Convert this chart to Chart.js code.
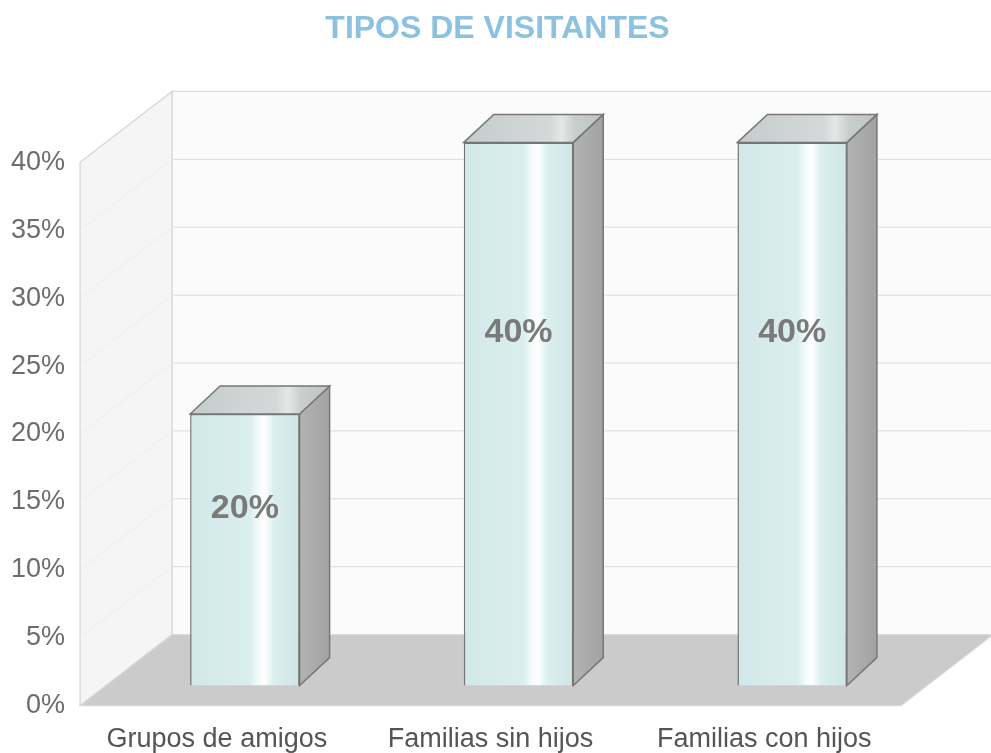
<!DOCTYPE html>
<html>
<head>
<meta charset="utf-8">
<script src="https://cdn.jsdelivr.net/npm/chart.js@4.4.1/dist/chart.umd.min.js"></script>
<style>
  body { margin: 0; background: #fff; }
  #wrap { width: 991px; height: 753px; }
</style>
</head>
<body>
<div id="wrap"><canvas id="chart"></canvas></div>
<script>
// Chart data
const categories = ['Grupos de amigos', 'Familias sin hijos', 'Familias con hijos'];
const shares = [20, 40, 40];
const axisMax = 40;
const axisStep = 5;

// 3D look: depth of the box and offset of the bar fronts
const WALL_DX = 92, WALL_DY = -71;
const FRONT_DX = 28, FRONT_DY = -20;
const BAR_DX = 30, BAR_DY = -28;

function poly(ctx, pts, fill, stroke) {
    ctx.beginPath();
    ctx.moveTo(pts[0][0], pts[0][1]);
    for (let i = 1; i < pts.length; i++) ctx.lineTo(pts[i][0], pts[i][1]);
    ctx.closePath();
    if (fill) { ctx.fillStyle = fill; ctx.fill(); }
    if (stroke) { ctx.strokeStyle = stroke; ctx.stroke(); }
}

const box3d = {
    id: 'box3d',
    beforeDatasetsDraw(chart) {
        const ctx = chart.ctx;
        const a = chart.chartArea;
        const yScale = chart.scales.y;
        const y0 = yScale.getPixelForValue(0);
        const yT = yScale.getPixelForValue(axisMax);

        ctx.save();
        ctx.lineWidth = 1.2;
        // back wall
        poly(ctx, [[a.left + WALL_DX, yT + WALL_DY], [a.right + WALL_DX, yT + WALL_DY],
                   [a.right + WALL_DX, y0 + WALL_DY], [a.left + WALL_DX, y0 + WALL_DY]], '#fbfbfb', '#dedede');
        // left wall
        poly(ctx, [[a.left, y0], [a.left, yT], [a.left + WALL_DX, yT + WALL_DY], [a.left + WALL_DX, y0 + WALL_DY]],
             '#f5f5f5', '#d4d4d4');
        // gridlines on the walls
        ctx.lineWidth = 1;
        for (let v = axisStep; v < axisMax; v += axisStep) {
            const py = yScale.getPixelForValue(v);
            ctx.strokeStyle = '#dcdcdc';
            ctx.beginPath();
            ctx.moveTo(a.left + WALL_DX, py + WALL_DY);
            ctx.lineTo(a.right + WALL_DX, py + WALL_DY);
            ctx.stroke();
            ctx.strokeStyle = '#ededed';
            ctx.beginPath();
            ctx.moveTo(a.left, py);
            ctx.lineTo(a.left + WALL_DX, py + WALL_DY);
            ctx.stroke();
        }
        // floor
        ctx.lineWidth = 1.2;
        poly(ctx, [[a.left, y0], [a.right, y0], [a.right + WALL_DX, y0 + WALL_DY], [a.left + WALL_DX, y0 + WALL_DY]],
             '#cbcbcb', '#d9d9d9');

        // side and top faces of the bars
        const meta = chart.getDatasetMeta(0);
        ctx.lineWidth = 1.5;
        meta.data.forEach(bar => {
            const p = bar.getProps(['x', 'y', 'base', 'width'], true);
            const xl = p.x - p.width / 2 + FRONT_DX;
            const xr = p.x + p.width / 2 + FRONT_DX;
            const top = p.y + FRONT_DY;
            const base = p.base + FRONT_DY;
            const side = ctx.createLinearGradient(xr, 0, xr + BAR_DX, 0);
            side.addColorStop(0, '#b3b3b3');
            side.addColorStop(1, '#a2a2a2');
            poly(ctx, [[xr, top], [xr + BAR_DX, top + BAR_DY], [xr + BAR_DX, base + BAR_DY], [xr, base]], side, '#777');
            const lid = ctx.createLinearGradient(xl, 0, xr + BAR_DX, 0);
            lid.addColorStop(0, '#c6cccc');
            lid.addColorStop(0.62, '#d4d8d8');
            lid.addColorStop(0.7, '#e6e8e8');
            lid.addColorStop(0.8, '#c8cdcd');
            lid.addColorStop(1, '#bfc3c3');
            poly(ctx, [[xl, top], [xl + BAR_DX, top + BAR_DY], [xr + BAR_DX, top + BAR_DY], [xr, top]], lid, '#777');
        });
        ctx.restore();

        // bar fronts are drawn by Chart.js, shifted into the box
        ctx.save();
        ctx.translate(FRONT_DX, FRONT_DY);
    },
    afterDatasetsDraw(chart) {
        const ctx = chart.ctx;
        ctx.restore();
        const meta = chart.getDatasetMeta(0);
        ctx.save();
        ctx.font = 'bold 34px "Liberation Sans", Arial, sans-serif';
        ctx.fillStyle = '#7a7a7a';
        ctx.textAlign = 'center';
        ctx.textBaseline = 'middle';
        meta.data.forEach((bar, i) => {
            const p = bar.getProps(['x', 'y', 'base'], true);
            const ly = p.y + 0.35 * (p.base - p.y) + FRONT_DY;
            ctx.fillText(shares[i] + '%', p.x + FRONT_DX, ly);
        });
        ctx.restore();
    }
};

function frontFill(context) {
    const chart = context.chart;
    const xs = chart.scales.x;
    const fallback = '#d8eded';
    if (!xs || !xs.width) return fallback;
    const band = xs.width / categories.length;
    const w = band * 0.4;
    const cx = xs.getPixelForValue(context.dataIndex);
    if (!Number.isFinite(cx) || !Number.isFinite(w) || w <= 0) return fallback;
    const g = chart.ctx.createLinearGradient(cx - w / 2, 0, cx + w / 2, 0);
    g.addColorStop(0, '#d2e8e8');
    g.addColorStop(0.55, '#dbeeee');
    g.addColorStop(0.62, '#f4fafa');
    g.addColorStop(0.68, '#ffffff');
    g.addColorStop(0.76, '#dcefef');
    g.addColorStop(1, '#d0e5e5');
    return g;
}

const ctx = document.getElementById('chart').getContext('2d');
new Chart(ctx, {
    type: 'bar',
    data: {
        labels: categories,
        datasets: [{
            label: 'Tipos de visitantes',
            data: shares,
            backgroundColor: frontFill,
            borderColor: '#747474',
            borderWidth: 1.5,
            barPercentage: 0.4,
            categoryPercentage: 1,
            clip: false
        }]
    },
    options: {
        responsive: true,
        maintainAspectRatio: false,
        animation: false,
        layout: { padding: { left: 4, right: 0, top: 0, bottom: -13 } },
        plugins: {
            legend: { display: false },
            tooltip: { enabled: false },
            title: {
                display: true,
                text: 'TIPOS DE VISITANTES',
                color: '#8ac2e0',
                font: { family: '"Liberation Sans", Arial, sans-serif', size: 32, weight: 'bold' },
                padding: { top: 10, bottom: 114 }
            }
        },
        scales: {
            x: {
                grid: { display: false },
                border: { display: false },
                ticks: {
                    color: '#555',
                    padding: 10,
                    font: { family: '"Liberation Sans", Arial, sans-serif', size: 27 }
                }
            },
            y: {
                min: 0,
                max: axisMax,
                grid: { display: false },
                border: { display: false },
                ticks: {
                    stepSize: axisStep,
                    color: '#6c6c6c',
                    padding: 7,
                    font: { family: '"Liberation Sans", Arial, sans-serif', size: 27 },
                    callback: v => v + '%'
                }
            },
            // empty right-hand axis that leaves room for the depth of the box
            depth: {
                position: 'right',
                grid: { display: false },
                border: { display: false },
                ticks: { display: false },
                afterFit(scale) { scale.width = 90; }
            }
        }
    },
    plugins: [box3d]
});
</script>
</body>
</html>
